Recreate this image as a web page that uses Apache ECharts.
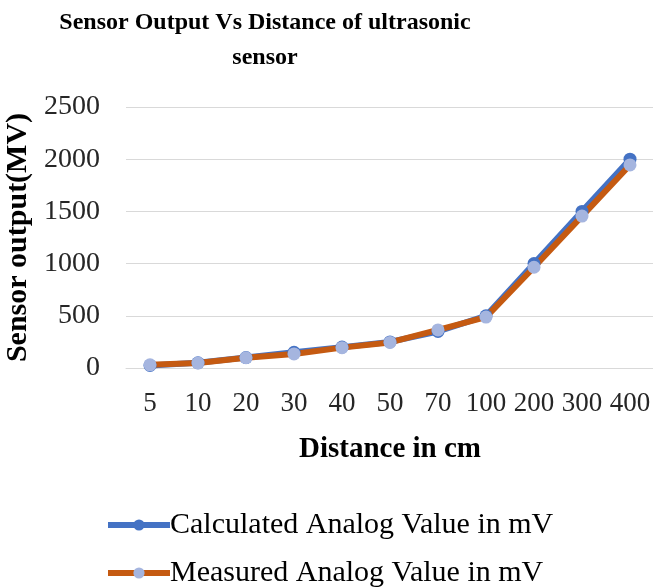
<!DOCTYPE html>
<html><head><meta charset="utf-8">
<script src="https://cdn.jsdelivr.net/npm/echarts@6/dist/echarts.min.js"></script>
<style>html,body{margin:0;padding:0;background:#fff}#c{width:653px;height:588px}</style>
</head><body><div id="c"></div>
<script>
const categories = ['5','10','20','30','40','50','70','100','200','300','400'];
const calculated = [25, 50, 100, 150, 200, 250, 350, 500, 1000, 1500, 2000];
const measured = [30, 48, 98, 135, 195, 245, 365, 488, 965, 1455, 1945];
const yTicks = {min: 0, max: 2500, interval: 500};
const seriesNames = ['Calculated Analog Value in mV', 'Measured Analog Value in mV'];
const F = 'Liberation Serif';
const legendBase = {
  orient: 'vertical', left: 105, padding: 0,
  itemWidth: 62, itemHeight: 14,
  lineStyle: {width: 6},
  textStyle: {fontFamily: F, fontSize: 30, color: '#000', padding: [0,0,0,-5]}
};
const chart = echarts.init(document.getElementById('c'));
chart.setOption({
  animation: false,
  backgroundColor: '#fff',
  title: {
    text: 'Sensor Output Vs Distance of ultrasonic\nsensor',
    left: 260, top: 0, textAlign: 'center',
    textStyle: {fontFamily: F, fontWeight: 'bold', fontSize: 24, color: '#000', lineHeight: 35}
  },
  grid: {left: 126, right: -1, top: 107, bottom: 220, outerBoundsMode: 'none', containLabel: false},
  legend: [
    Object.assign({}, legendBase, {top: 510, data: [seriesNames[0]]}),
    Object.assign({}, legendBase, {top: 558, data: [seriesNames[1]]})
  ],
  xAxis: {
    type: 'category', data: categories, boundaryGap: true,
    name: 'Distance in cm', nameLocation: 'middle', nameGap: 67,
    nameTextStyle: {fontFamily: F, fontWeight: 'bold', fontSize: 29, color: '#000'},
    axisLine: {show: true, lineStyle: {color: '#d9d9d9'}},
    axisTick: {show: false},
    axisLabel: {fontFamily: F, fontSize: 27, color: '#262626', margin: 22, interval: 0}
  },
  yAxis: {
    type: 'value', min: yTicks.min, max: yTicks.max, interval: yTicks.interval,
    name: 'Sensor output(MV)', nameLocation: 'middle', nameGap: 93,
    nameTextStyle: {fontFamily: F, fontWeight: 'bold', fontSize: 30, color: '#000'},
    axisLine: {show: false}, axisTick: {show: false},
    axisLabel: {fontFamily: F, fontSize: 28, color: '#262626', margin: 26, formatter: v => String(v)},
    splitLine: {lineStyle: {color: '#d9d9d9', width: 1}}
  },
  series: [
    {
      name: seriesNames[0], type: 'line', data: calculated,
      symbol: 'circle', symbolSize: 13,
      lineStyle: {color: '#4472C4', width: 6},
      itemStyle: {color: '#4472C4'}
    },
    {
      name: seriesNames[1], type: 'line', data: measured,
      symbol: 'circle', symbolSize: 13,
      lineStyle: {color: '#C55A11', width: 6},
      itemStyle: {color: '#A5B5DF'}
    }
  ]
});
</script></body></html>
